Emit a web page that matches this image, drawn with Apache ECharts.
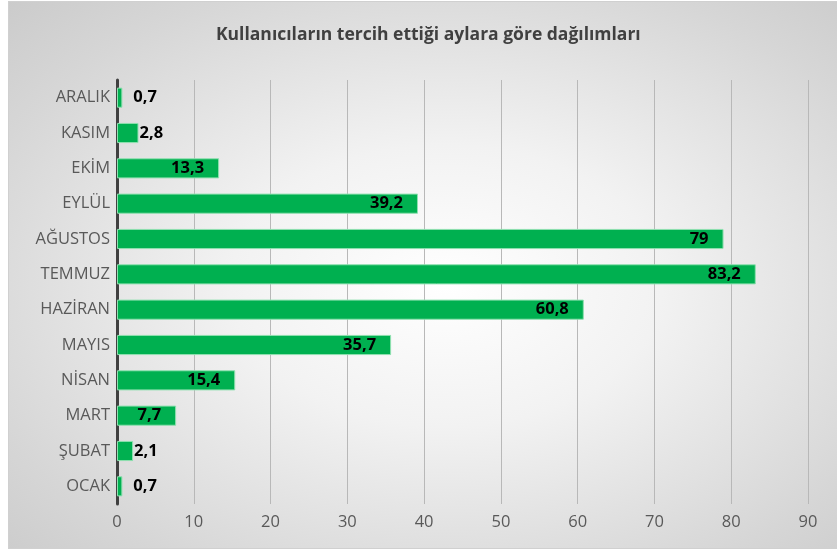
<!DOCTYPE html>
<html>
<head>
<meta charset="utf-8">
<script src="https://cdn.jsdelivr.net/npm/echarts@6/dist/echarts.min.js"></script>
<style>
  html, body { margin: 0; padding: 0; background: #fff; }
  #frame {
    position: absolute; left: 8px; top: 1px; width: 840px; height: 546px;
    border: 1px solid #d0d0d0;
    background: radial-gradient(ellipse at 52% 52%, #ffffff 0%, #f2f2f2 35%, #d6d6d6 80%, #cbcbcb 100%);
  }
  #main { position: absolute; left: 0; top: 0; width: 837px; height: 556px; }
</style>
</head>
<body>
<div id="frame"></div>
<div id="main"></div>
<script>
const months = ['OCAK', 'ŞUBAT', 'MART', 'NİSAN', 'MAYIS', 'HAZİRAN', 'TEMMUZ', 'AĞUSTOS', 'EYLÜL', 'EKİM', 'KASIM', 'ARALIK']
const values = [0.7, 2.1, 7.7, 15.4, 35.7, 60.8, 83.2, 79, 39.2, 13.3, 2.8, 0.7]
const xTicks = [0, 10, 20, 30, 40, 50, 60, 70, 80, 90]

const chart = echarts.init(document.getElementById('main'))

// small bars get the label outside, like excel does
const barData = values.map(v => {
  if (v < 1) return { value: v, label: { position: 'right', distance: 11 } }
  if (v < 5) return { value: v, label: { position: 'right', distance: 1 } }
  return { value: v, label: { position: 'insideRight', distance: 15 } }
})

const option = {
  backgroundColor: 'transparent',
  title: {
    text: 'Kullanıcıların tercih ettiği aylara göre dağılımları',
    left: 211,
    top: 21,
    textStyle: { fontFamily: 'Open Sans', fontSize: 17.5, fontWeight: 'bold', color: '#404040' }
  },
  grid: { left: 117, right: 29, top: 80, bottom: 52 },
  xAxis: {
    type: 'value',
    min: xTicks[0],
    max: xTicks[xTicks.length - 1],
    interval: 10,
    axisLine: { show: false },
    axisTick: { show: false },
    axisLabel: { color: '#595959', fontFamily: 'Open Sans', fontSize: 16.5, margin: 10 },
    splitLine: { lineStyle: { color: '#b8b8b8', width: 1 } }
  },
  yAxis: {
    type: 'category',
    data: months,
    axisLine: { lineStyle: { color: '#404040', width: 3 } },
    axisTick: { show: false },
    axisLabel: { color: '#595959', fontFamily: 'Open Sans', fontSize: 16.5, margin: 7 }
  },
  series: [{
    type: 'bar',
    data: barData,
    barCategoryGap: '43%',
    itemStyle: { color: '#00b050', borderColor: '#8fe0b0', borderWidth: 1 },
    label: {
      show: true,
      color: '#000',
      fontFamily: 'Open Sans',
      fontWeight: 'bold',
      fontSize: 16.5,
      formatter: p => String(p.value).replace('.', ',')
    },
    silent: true
  }]
}

chart.setOption(option)
</script>
</body>
</html>
